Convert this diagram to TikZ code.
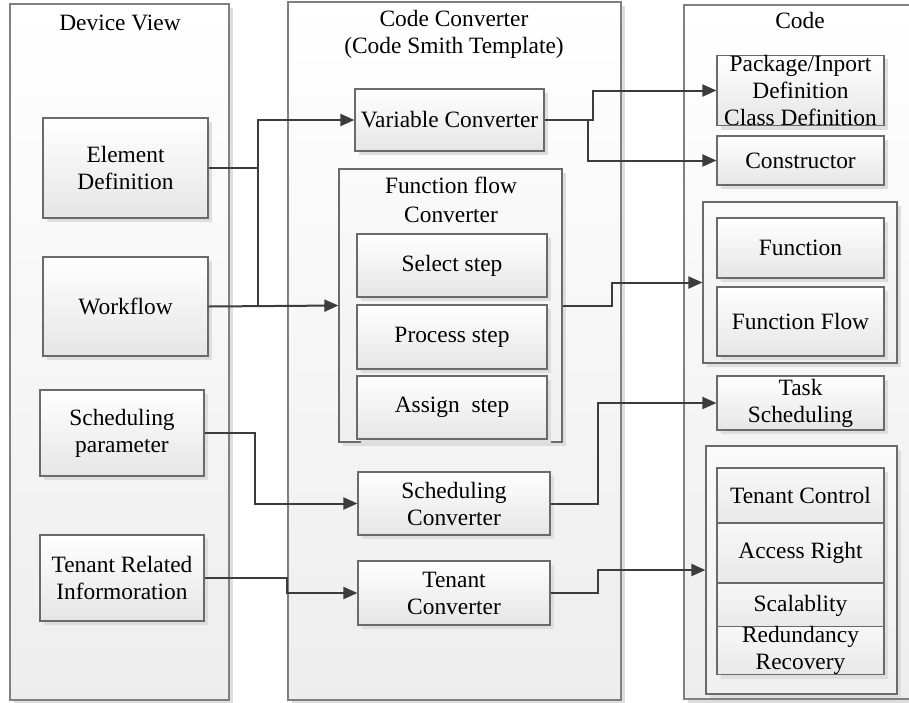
\documentclass[tikz,border=0pt]{standalone}
\usepackage{fontspec}
\setmainfont{Liberation Serif}
\usetikzlibrary{shadows,arrows.meta}
\definecolor{edgegray}{HTML}{6A6A6A}
\definecolor{wiregray}{HTML}{3C3C3C}
\begin{document}
\begin{tikzpicture}[x=1pt,y=-1pt,
  every node/.style={font=\fontsize{23.4}{27}\selectfont, text=black, align=center, inner sep=0pt},
  shade/.style={drop shadow={shadow xshift=4pt, shadow yshift=-4pt, fill=black!13, opacity=1}},
  panel/.style={draw=edgegray!85, line width=1.3pt, top color=white, bottom color=black!7, shade},
  box/.style={draw=edgegray, line width=1.2pt, top color=white, bottom color=black!10, shade},
  group/.style={draw=edgegray, line width=1.2pt, top color=black!2, bottom color=black!6, shade},
  cell/.style={draw=edgegray, line width=1.2pt, top color=black!3, bottom color=black!9, shade},
  title/.style={anchor=base},
  wire/.style={draw=wiregray, line width=2pt},
  arrow/.style={wire, -{Triangle[length=14pt,width=12pt]}},
]
\clip (0,0) rectangle (909,702);

% three columns
\node[panel, minimum width=219pt, minimum height=696pt] (devcol) at (119.5,352) {};
\node[panel, minimum width=333pt, minimum height=698pt] (convcol) at (454.5,351) {};
\node[panel, minimum width=232pt, minimum height=694pt] (codecol) at (800,352) {};

\node[title] (devT) at (120,30) {Device View};
\node[title] (convT1) at (454,26) {Code Converter};
\node[title] (convT2) at (454,53) {(Code Smith Template)};
\node[title] (codeT) at (800,28) {Code};

% device view
\node[box, minimum width=165pt, minimum height=100pt] (ed) at (125.5,168) {Element\\Definition};
\node[box, minimum width=165pt, minimum height=99pt] (wf) at (125.5,306.5) {Workflow};
\node[box, minimum width=164pt, minimum height=86pt] (sp) at (122,433) {Scheduling\\parameter};
\node[box, minimum width=164pt, minimum height=86pt] (tr) at (122,578) {Tenant Related\\Informoration};

% converters
\node[box, minimum width=189pt, minimum height=62pt] (vc) at (449.5,120) {Variable Converter};
\node[group, minimum width=223pt, minimum height=273pt] (ffc) at (450.5,305.5) {};
\node[title] (ffT1) at (451,193) {Function flow};
\node[title] (ffT2) at (451,222) {Converter};
\node[box, minimum width=190pt, minimum height=63pt] (sel) at (452,265.5) {Select step};
\node[box, minimum width=190pt, minimum height=64pt] (proc) at (452,337) {Process step};
\node[box, minimum width=190pt, minimum height=63pt] (asg) at (452,407.5) {Assign\ \ step};
\node[box, minimum width=192pt, minimum height=63pt] (sc) at (454,503.5) {Scheduling\\Converter};
\node[box, minimum width=192pt, minimum height=64pt] (tc) at (454,593) {Tenant\\Converter};

% generated code
\node[box, minimum width=167pt, minimum height=67pt] (pkg) at (800.5,90.5) {Package/Inport\\Definition\\Class Definition};
\node[box, minimum width=167pt, minimum height=49pt] (con) at (800.5,160.5) {Constructor};
\node[group, minimum width=194pt, minimum height=161pt] (fg) at (800,282.5) {};
\node[box, minimum width=167pt, minimum height=60pt] (fn) at (800.5,248) {Function};
\node[box, minimum width=167pt, minimum height=69pt] (ff) at (800.5,321.5) {Function Flow};
\node[box, minimum width=167pt, minimum height=54pt] (ts) at (800.5,403) {Task\\Scheduling};
\node[group, minimum width=191pt, minimum height=248pt] (tg) at (801.5,570) {};
\node[cell, minimum width=167pt, minimum height=55pt] (tctl) at (800.5,495.5) {Tenant Control};
\node[cell, minimum width=167pt, minimum height=60pt] (acc) at (800.5,553) {Access Right};
\node[cell, minimum width=167pt, minimum height=45pt] (scal) at (800.5,605.5) {Scalablity};
\node[cell, minimum width=167pt, minimum height=45pt] (red) at (800.5,650.5) {Redundancy\\Recovery};

% routing columns
\coordinate (bus) at (258,0);
\coordinate (spx) at (255,0);
\coordinate (trx) at (287,0);
\coordinate (pkgx) at (593,0);
\coordinate (conx) at (588,0);
\coordinate (ffx) at (612,0);
\coordinate (outx) at (598,0);

% connectors
\draw[wire] (bus |- ed.east) -- (bus |- wf.east);
\draw[arrow] (ed.east) -| (bus |- vc.west) -- (vc.west);
\draw[arrow] (wf.east) -- (ffc.west);
\draw[arrow] (vc.east) -| (pkgx |- pkg.west) -- (pkg.west);
\draw[arrow] (vc.east) -| (conx |- con.west) -- (con.west);
\draw[arrow] (ffc.east) -| (ffx |- fg.west) -- (fg.west);
\draw[arrow] (sp.east) -| (spx |- sc.west) -- (sc.west);
\draw[arrow] (tr.east) -| (trx |- tc.west) -- (tc.west);
\draw[arrow] (sc.east) -| (outx |- ts.west) -- (ts.west);
\draw[arrow] (tc.east) -| (outx |- tg.west) -- (tg.west);
\end{tikzpicture}
\end{document}
